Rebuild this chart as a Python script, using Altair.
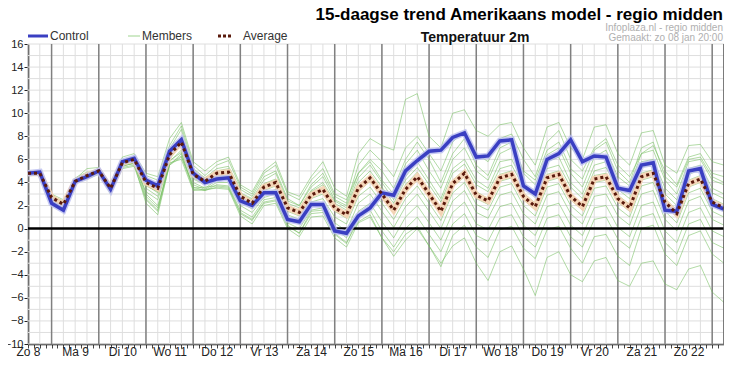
import json
import altair as alt
import pandas as pd

# ---------------- data (6-hourly steps, step 0 = Zo 8 12:00) ----------------
days = ["Zo 8", "Ma 9", "Di 10", "Wo 11", "Do 12", "Vr 13", "Za 14", "Zo 15",
        "Ma 16", "Di 17", "Wo 18", "Do 19", "Vr 20", "Za 21", "Zo 22"]
steps = list(range(60))

control = [4.8, 4.9, 2.2, 1.6, 4.1, 4.5, 5.0, 3.4, 5.8, 6.1, 4.2, 3.7, 6.7, 7.7, 4.8, 4.0,
           4.3, 4.4, 2.4, 2.0, 3.1, 3.1, 0.8, 0.6, 2.1, 2.1, -0.2, -0.4, 1.1, 1.8, 3.1, 2.9,
           5.0, 5.9, 6.7, 6.8, 7.9, 8.3, 6.2, 6.3, 7.6, 7.7, 3.7, 3.0, 6.0, 6.5, 7.7, 5.8,
           6.3, 6.2, 3.5, 3.3, 5.5, 5.7, 1.6, 1.5, 5.0, 5.2, 2.1, 1.7]

average = [4.8, 4.8, 2.7, 2.1, 4.1, 4.6, 5.0, 3.5, 5.7, 6.0, 4.0, 3.5, 6.4, 7.5, 4.7, 4.1,
           4.8, 4.9, 2.8, 2.2, 3.6, 4.0, 1.8, 1.4, 2.9, 3.4, 1.8, 1.2, 3.5, 4.4, 3.0, 1.6,
           3.4, 4.5, 3.0, 1.5, 3.9, 4.8, 2.9, 2.4, 4.4, 4.7, 2.8, 1.9, 4.4, 4.7, 2.8, 1.9,
           4.3, 4.5, 2.6, 1.8, 4.5, 4.8, 2.3, 1.3, 3.9, 4.3, 2.3, 1.8]

m01 = [4.9, 4.9, 2.9, 2.3, 4.3, 5.2, 5.3, 3.8, 6.2, 6.5, 4.8, 4.5, 7.8, 9.2, 5.8, 5.0, 5.8, 6.2, 3.8, 3.2,
       5.0, 5.8, 3.2, 2.8, 4.5, 5.8, 3.5, 2.8, 6.5, 7.8, 7.2, 6.8, 11.2, 11.7, 8.0, 7.0, 10.0, 10.3, 8.5, 8.0,
       9.0, 9.2, 7.0, 5.5, 8.8, 9.2, 7.0, 6.0, 8.8, 9.0, 6.5, 5.5, 8.3, 8.5, 5.5, 4.8, 7.2, 7.3, 5.8, 5.5]
m02 = [4.7, 4.7, 2.5, 1.7, 4.0, 4.5, 5.1, 3.2, 5.6, 5.9, 4.3, 3.9, 6.9, 8.6, 5.2, 4.4, 5.2, 5.4, 3.4, 2.8,
       4.5, 5.0, 2.6, 2.0, 3.8, 4.8, 2.8, 2.2, 5.5, 6.8, 5.8, 4.5, 7.0, 8.0, 6.5, 5.0, 7.5, 8.5, 6.5, 5.8,
       7.8, 8.2, 6.0, 4.5, 7.5, 8.5, 6.0, 5.0, 7.0, 7.8, 5.5, 4.5, 6.5, 7.2, 5.0, 3.8, 6.2, 6.5, 4.8, 4.5]
m03 = [4.8, 4.9, 2.8, 2.4, 4.4, 4.9, 4.9, 3.6, 5.9, 6.3, 4.6, 4.2, 7.2, 8.9, 5.5, 4.6, 5.5, 5.9, 3.6, 3.0,
       4.8, 5.5, 3.0, 2.5, 4.2, 5.2, 3.0, 2.5, 4.8, 6.0, 5.0, 3.5, 6.0, 7.5, 6.0, 4.0, 6.5, 7.8, 5.5, 4.6,
       7.0, 7.5, 5.0, 4.2, 6.8, 7.5, 5.2, 4.3, 6.8, 7.5, 5.0, 4.0, 7.0, 7.5, 4.5, 3.6, 6.0, 6.2, 4.5, 4.0]
m04 = [4.6, 4.6, 2.6, 1.9, 4.2, 4.6, 4.8, 3.3, 5.5, 5.8, 3.7, 3.2, 6.5, 7.8, 5.0, 4.3, 5.0, 5.2, 3.1, 2.6,
       4.2, 4.8, 2.4, 2.0, 3.6, 4.5, 2.5, 2.0, 4.8, 5.8, 4.2, 3.0, 5.6, 6.8, 5.0, 3.5, 6.0, 7.0, 5.0, 4.2,
       6.5, 7.0, 4.8, 3.8, 6.4, 7.0, 4.8, 3.6, 6.2, 6.8, 4.5, 3.7, 6.5, 6.8, 4.2, 3.0, 5.8, 6.0, 4.2, 3.8]
m05 = [4.8, 4.8, 2.4, 1.9, 4.0, 4.5, 5.0, 3.6, 5.8, 6.1, 4.1, 3.7, 6.5, 7.2, 4.6, 4.0, 4.9, 5.0, 3.0, 2.4,
       3.9, 4.3, 2.2, 1.8, 3.3, 4.0, 2.4, 1.8, 4.4, 5.5, 4.0, 2.5, 4.5, 5.8, 4.2, 2.6, 5.2, 6.0, 4.2, 3.5,
       5.8, 6.0, 4.0, 3.0, 5.8, 6.2, 4.0, 3.0, 5.5, 5.8, 3.8, 3.0, 5.8, 6.0, 3.5, 2.5, 5.2, 5.5, 3.5, 3.0]
m06 = [4.9, 4.8, 2.9, 2.3, 4.2, 4.7, 5.2, 3.4, 5.4, 5.7, 3.9, 3.4, 6.3, 7.6, 4.8, 4.3, 4.6, 4.8, 3.0, 2.5,
       3.8, 4.2, 2.0, 1.6, 3.2, 3.8, 2.2, 1.6, 4.0, 5.0, 3.6, 2.2, 4.2, 5.3, 3.8, 2.3, 4.8, 5.6, 3.8, 3.2,
       5.2, 5.5, 3.6, 2.7, 5.2, 5.5, 3.6, 2.6, 5.0, 5.3, 3.4, 2.6, 5.3, 5.6, 3.0, 2.0, 4.7, 5.1, 3.1, 2.6]
m07 = [4.7, 4.8, 2.7, 2.0, 4.1, 4.5, 4.9, 3.5, 5.7, 6.0, 3.5, 2.8, 6.0, 7.3, 4.4, 3.9, 4.5, 4.6, 2.8, 2.2,
       3.5, 4.0, 1.8, 1.3, 3.0, 3.5, 1.9, 1.3, 3.6, 4.6, 3.3, 1.8, 3.8, 4.9, 3.2, 1.8, 4.2, 5.1, 3.2, 2.6,
       4.7, 5.0, 3.1, 2.2, 4.7, 5.0, 3.0, 2.1, 4.6, 4.8, 2.9, 2.1, 4.8, 5.1, 2.6, 1.6, 4.2, 4.6, 2.6, 2.1]
m08 = [4.8, 4.7, 2.8, 2.2, 4.0, 4.6, 5.1, 3.3, 5.6, 5.8, 3.8, 3.1, 6.2, 7.2, 4.3, 3.8, 4.4, 4.5, 2.6, 2.0,
       3.3, 3.7, 1.5, 1.1, 2.6, 3.0, 1.5, 0.9, 3.2, 4.1, 2.7, 1.3, 3.1, 4.2, 2.7, 1.2, 3.6, 4.5, 2.6, 2.1,
       4.1, 4.4, 2.5, 1.6, 4.1, 4.4, 2.5, 1.6, 4.0, 4.2, 2.3, 1.5, 4.2, 4.5, 2.0, 1.0, 3.6, 4.0, 2.0, 1.5]
m09 = [4.9, 5.0, 3.0, 2.5, 4.2, 4.4, 4.8, 3.0, 5.3, 5.5, 3.2, 2.5, 5.8, 6.8, 4.0, 3.5, 4.2, 4.3, 2.3, 1.7,
       3.0, 3.4, 1.2, 0.8, 2.3, 2.6, 1.0, 0.4, 2.8, 3.6, 2.2, 0.8, 2.6, 3.7, 2.2, 0.7, 3.1, 4.0, 2.1, 1.6,
       3.6, 3.9, 2.0, 1.1, 3.6, 3.9, 2.0, 1.1, 3.5, 3.7, 1.8, 1.0, 3.7, 4.0, 1.5, 0.5, 3.1, 3.5, 1.5, 1.0]
m10 = [4.7, 4.6, 2.4, 1.8, 4.3, 4.8, 5.0, 3.7, 5.9, 6.1, 3.0, 2.0, 5.5, 6.2, 3.8, 3.4, 4.0, 4.0, 2.0, 1.4,
       2.7, 3.0, 0.9, 0.4, 2.0, 2.2, 0.5, -0.2, 2.2, 3.0, 1.5, 0.1, 1.9, 3.0, 1.5, 0.0, 2.4, 3.3, 1.4, 0.9,
       2.9, 3.2, 1.3, 0.4, 2.9, 3.2, 1.3, 0.4, 2.8, 3.0, 1.1, 0.3, 3.0, 3.3, 0.8, -0.2, 2.4, 2.8, 0.8, 0.3]
m11 = [4.8, 4.9, 2.6, 1.5, 3.9, 4.3, 4.7, 3.1, 5.2, 5.4, 2.5, 1.5, 5.5, 6.5, 3.6, 3.3, 3.8, 3.7, 1.6, 1.0,
       2.5, 2.7, 0.5, 0.0, 1.6, 1.8, 0.0, -0.8, 1.5, 2.2, 0.6, -0.8, 1.0, 2.0, 0.5, -1.0, 1.4, 2.3, 0.4, -0.1,
       1.9, 2.2, 0.3, -0.6, 1.9, 2.2, 0.3, -0.6, 1.8, 2.0, 0.1, -0.7, 2.0, 2.3, -0.2, -1.2, 1.4, 1.8, -0.2, -0.7]
m12 = [4.6, 4.7, 2.9, 2.2, 4.1, 4.4, 4.9, 3.4, 5.5, 5.6, 2.2, 1.2, 5.6, 6.3, 3.4, 3.3, 3.6, 3.5, 1.3, 0.7,
       2.2, 2.4, 0.2, -0.4, 1.3, 1.4, -0.5, -1.3, 1.0, 1.6, -0.2, -1.6, 0.0, 1.0, -0.5, -2.0, 0.4, 1.3, -0.6, -1.1,
       0.9, 1.2, -0.7, -1.6, 0.9, 1.2, -0.7, -1.6, 0.8, 1.0, -0.9, -1.7, 1.0, 1.3, -1.2, -2.2, 0.4, 0.8, -1.2, -1.7]
m13 = [4.9, 4.8, 2.5, 2.0, 4.2, 4.6, 5.0, 3.2, 5.6, 5.9, 2.8, 1.8, 5.7, 6.0, 3.3, 3.4, 3.5, 3.4, 1.1, 0.4,
       2.0, 2.2, 0.0, -0.7, 1.0, 1.1, -0.8, -1.6, 0.5, 1.0, -0.8, -2.4, -1.0, 0.0, -1.5, -3.3, -0.6, 0.3, -1.6, -2.5,
       -0.1, 0.2, -1.7, -2.6, -0.1, 0.2, -1.7, -3.0, -0.7, -0.5, -2.4, -3.2, 0.0, 0.3, -2.2, -3.2, -0.6, -0.2, -2.2, -3.0]
m14 = [4.8, 4.7, 2.7, 1.9, 4.0, 4.4, 4.8, 3.5, 5.4, 5.7, 2.6, 1.6, 5.9, 6.6, 3.5, 3.6, 3.7, 3.6, 1.4, 0.8,
       2.3, 2.5, 0.3, -0.4, 1.5, 1.6, -0.4, -1.2, 0.6, 1.2, -0.8, -2.0, -0.5, 0.2, -1.5, -3.0, -1.5, -0.8, -3.0, -4.5,
       -2.0, -1.5, -3.5, -5.8, -2.5, -2.0, -4.0, -4.6, -2.8, -2.5, -4.5, -5.0, -3.0, -2.8, -4.8, -5.3, -3.5, -3.2, -5.5, -6.4]

members = {"m01": m01, "m02": m02, "m03": m03, "m04": m04, "m05": m05, "m06": m06, "m07": m07,
           "m08": m08, "m09": m09, "m10": m10, "m11": m11, "m12": m12, "m13": m13, "m14": m14}

y_grid = list(range(-10, 17))
y_labels = list(range(-10, 17, 2))
x_grid = list(range(0, 60))
midnights = list(range(2, 60, 4))
x_ticks = [i * 0.5 for i in range(119)]
zero_line = [0]

# ---------------- tables ----------------
df_ctrl = pd.DataFrame({"step": steps, "temp": control})
df_avg = pd.DataFrame({"step": steps, "temp": average})
df_mem = pd.concat([pd.DataFrame({"step": steps, "temp": v, "member": k}) for k, v in members.items()])

W, H = 696, 300
FONT = "Liberation Sans"
xs = alt.Scale(domain=[0, 59], nice=False, zero=False)
ys = alt.Scale(domain=[-10, 16], nice=False, zero=False)
label_expr = "datum.value % 4 === 0 ? " + json.dumps(days) + "[datum.value / 4] : ''"

x_axis = alt.Axis(values=x_ticks, labelExpr=label_expr, grid=False, domainColor="#000",
                  domainWidth=1.5, tickColor="#444", tickSize=4, labelFontSize=12,
                  labelColor="#222", labelFont=FONT, labelPadding=-2, labelOverlap=False,
                  labelFlush=False, title=None)
y_axis = alt.Axis(values=y_labels, grid=False, domainColor="#000", domainWidth=1.5,
                  tickColor="#222", tickSize=4, labelFontSize=11, labelColor="#222",
                  labelFont=FONT, labelPadding=1, title=None)


def X(field):
    return alt.X(field, scale=xs, axis=x_axis)


def Y(field):
    return alt.Y(field, scale=ys, axis=y_axis)


hgrid = alt.Chart(pd.DataFrame({"v": y_grid})).mark_rule(color="#dedede", strokeWidth=1).encode(y=Y("v:Q"))
vgrid = alt.Chart(pd.DataFrame({"s": x_grid})).mark_rule(color="#dedede", strokeWidth=1).encode(x=X("s:Q"))
daylines = alt.Chart(pd.DataFrame({"s": midnights})).mark_rule(color="#808080", strokeWidth=1.5).encode(x=X("s:Q"))
right_border = alt.Chart(pd.DataFrame({"a": [0]})).mark_rule(color="#555", strokeWidth=1.5).encode(
    x=alt.value(W), y=alt.value(0), y2=alt.value(H))

mem = alt.Chart(df_mem).mark_line(color="#72be5c", strokeWidth=1, opacity=0.55).encode(
    x=X("step:Q"), y=Y("temp:Q"), detail="member:N")
zero = alt.Chart(pd.DataFrame({"v": zero_line})).mark_rule(color="#000", strokeWidth=2.5).encode(y=Y("v:Q"))

avg_halo = alt.Chart(df_avg).mark_line(color="#f6d3b4", strokeWidth=6, opacity=0.9).encode(x=X("step:Q"), y=Y("temp:Q"))
avg_line = alt.Chart(df_avg).mark_line(color="#5a1a0c", strokeWidth=3, strokeDash=[3, 3]).encode(x=X("step:Q"), y=Y("temp:Q"))
ctrl_halo = alt.Chart(df_ctrl).mark_line(color="#b9bdf0", strokeWidth=6.5, opacity=0.8).encode(x=X("step:Q"), y=Y("temp:Q"))
ctrl_line = alt.Chart(df_ctrl).mark_line(color="#3a3fc2", strokeWidth=3.5).encode(x=X("step:Q"), y=Y("temp:Q"))

one = pd.DataFrame({"a": [0]})


def txt(text, x, y, size, align="left", weight="normal", color="#222", baseline="alphabetic"):
    return alt.Chart(one).mark_text(text=text, align=align, baseline=baseline, fontSize=size,
                                    fontWeight=weight, font=FONT, color=color).encode(
        x=alt.value(x), y=alt.value(y))


def sample(x1, x2, y, color, width, dash=None):
    kw = dict(color=color, strokeWidth=width)
    if dash:
        kw["strokeDash"] = dash
    return alt.Chart(one).mark_rule(**kw).encode(x=alt.value(x1), x2=alt.value(x2), y=alt.value(y))


texts = [
    txt("15-daagse trend Amerikaans model - regio midden", W - 1, -24, 17, align="right", weight="bold", color="#000"),
    txt("Infoplaza.nl - regio midden", W - 1, -13, 10, align="right", color="#b0b0b0"),
    txt("Gemaakt: zo 08 jan 20:00", W - 1, -3, 10, align="right", color="#b0b0b0"),
    txt("Temperatuur 2m", 447, -2, 14, align="center", weight="bold", color="#111"),
    sample(0, 20, -8, "#3a3fc2", 3),
    txt("Control", 22, -8, 12, baseline="middle", color="#333"),
    sample(100, 112, -8, "#9fd48f", 1),
    txt("Members", 114, -8, 12, baseline="middle", color="#333"),
    sample(190, 204, -8, "#5a1a0c", 3, dash=[3, 2]),
    txt("Average", 215, -8, 12, baseline="middle", color="#333"),
]

chart = alt.layer(
    hgrid, vgrid, daylines, mem, zero, avg_halo, ctrl_halo, ctrl_line, avg_line, right_border, *texts
).properties(
    width=W, height=H,
    padding={"left": 20, "top": 36, "right": 0, "bottom": 14},
    autosize=alt.AutoSizeParams(type="none"),
    background="white",
).configure_view(stroke=None)

chart.save("out.html", embed_options={"renderer": "svg", "actions": False})
